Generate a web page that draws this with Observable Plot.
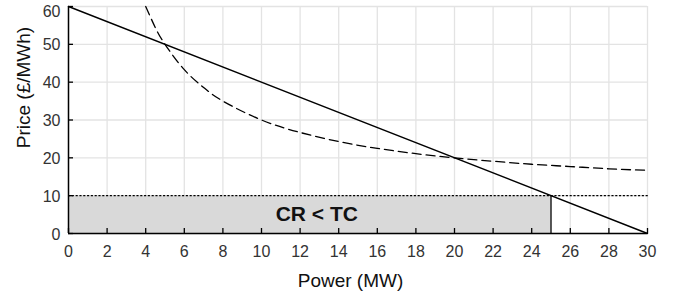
<!DOCTYPE html>
<html>
<head>
<meta charset="utf-8">
<script src="https://cdn.jsdelivr.net/npm/d3@7"></script>
<script src="https://cdn.jsdelivr.net/npm/@observablehq/plot@0.6"></script>
<style>
  html, body { margin: 0; padding: 0; background: #fff; }
  svg { font-family: "Liberation Sans", Arial, sans-serif; }
</style>
</head>
<body>
<div id="chart"></div>
<script>
// Demand (solid line) endpoints
const demandPower = [0, 30];
const demandPrice = [60, 0];

// Average cost curve (dashed)
const costPower = [4, 4.5, 5, 6, 7, 8, 10, 12, 14, 16, 18, 20, 22, 24, 26, 28, 30];
const costPrice = [60, 54.4, 50, 43.3, 38.6, 35, 30, 26.7, 24.3, 22.5, 21.1, 20, 19.1, 18.3, 17.7, 17.1, 16.7];

// Revenue rectangle and price level
const rectPower = [0, 25];
const rectPrice = [0, 10];
const priceLevel = 10;
const priceLevelRange = [0, 30];
const rectLabel = "CR < TC";

// Axis ticks and labels
const xTicks = [0, 2, 4, 6, 8, 10, 12, 14, 16, 18, 20, 22, 24, 26, 28, 30];
const yTicks = [0, 10, 20, 30, 40, 50, 60];
const xLabel = "Power (MW)";
const yLabel = "Price (£/MWh)";

const demand = demandPower.map((x, i) => ({x, y: demandPrice[i]}));
const cost = costPower.map((x, i) => ({x, y: costPrice[i]}));
const rect = [{x1: rectPower[0], x2: rectPower[1], y1: rectPrice[0], y2: rectPrice[1]}];
const level = priceLevelRange.map(x => ({x, y: priceLevel}));

const W = 682, H = 298, mL = 68, mR = 35, mT = 6, mB = 65;
const plotW = W - mL - mR, plotH = H - mT - mB;
const tickLen = 5;
const yMax = yTicks[yTicks.length - 1], yMin = yTicks[0];
const xMax = xTicks[xTicks.length - 1], xMin = xTicks[0];

const chart = Plot.plot({
  width: W,
  height: H,
  marginLeft: mL,
  marginRight: mR,
  marginTop: mT,
  marginBottom: mB,
  style: {fontFamily: "Liberation Sans, Arial, sans-serif", fontSize: "16px", color: "#333", overflow: "visible"},
  x: {domain: [0, 30]},
  y: {domain: [0, 60]},
  marks: [
    Plot.gridX(xTicks, {stroke: "#e3e3e3", strokeOpacity: 1, strokeWidth: 1.3}),
    Plot.gridY(yTicks, {stroke: "#e3e3e3", strokeOpacity: 1, strokeWidth: 1.3}),
    Plot.rect(rect, {x1: "x1", x2: "x2", y1: "y1", y2: "y2", fill: "#d9d9d9"}),
    Plot.ruleX(rect, {x: "x2", y1: "y1", y2: "y2", stroke: "black", strokeWidth: 1.3}),
    Plot.line(level, {x: "x", y: "y", stroke: "black", strokeWidth: 1.2, strokeDasharray: "1.2,2.6"}),
    Plot.line(cost, {x: "x", y: "y", stroke: "black", strokeWidth: 1.3, strokeDasharray: "9,5", curve: "natural"}),
    Plot.line(demand, {x: "x", y: "y", stroke: "black", strokeWidth: 1.4}),
    Plot.text(rect, {x: d => (d.x1 + d.x2) / 2, y: d => (d.y1 + d.y2) / 2, text: () => rectLabel, fontWeight: "bold", fontSize: 21, fill: "#111", dx: 7}),
    Plot.axisX(xTicks, {tickSize: 0, tickPadding: 12, fontSize: 16, fill: "#333", label: null}),
    Plot.axisY(yTicks.slice(0, -1), {tickSize: 0, tickPadding: 8, fontSize: 16, fill: "#333", label: null, dy: 1}),
    Plot.axisY(yTicks.slice(-1), {tickSize: 0, tickPadding: 8, fontSize: 16, fill: "#333", label: null, dy: 5}),
    Plot.text([xLabel], {frameAnchor: "bottom-left", text: d => d, dx: 282, dy: 47, fontSize: 19, fill: "#111", textAnchor: "middle", lineAnchor: "middle"}),
    Plot.text([yLabel], {frameAnchor: "top-left", text: d => d, dx: -45, dy: 81, rotate: -90, fontSize: 19, fill: "#111", textAnchor: "middle", lineAnchor: "middle"}),
    // inner tick marks
    Plot.ruleX(xTicks, {x: d => d, y1: () => yMax, y2: () => yMin, insetTop: plotH - tickLen, stroke: "black", strokeWidth: 1.3}),
    Plot.ruleY(yTicks, {y: d => d, x1: () => xMin, x2: () => xMax, insetRight: plotW - tickLen, stroke: "black", strokeWidth: 1.3}),
    Plot.ruleY([0], {stroke: "black", strokeWidth: 1.5}),
    Plot.ruleX([0], {stroke: "black", strokeWidth: 1.5})
  ]
});
document.getElementById("chart").appendChild(chart);
</script>
</body>
</html>
